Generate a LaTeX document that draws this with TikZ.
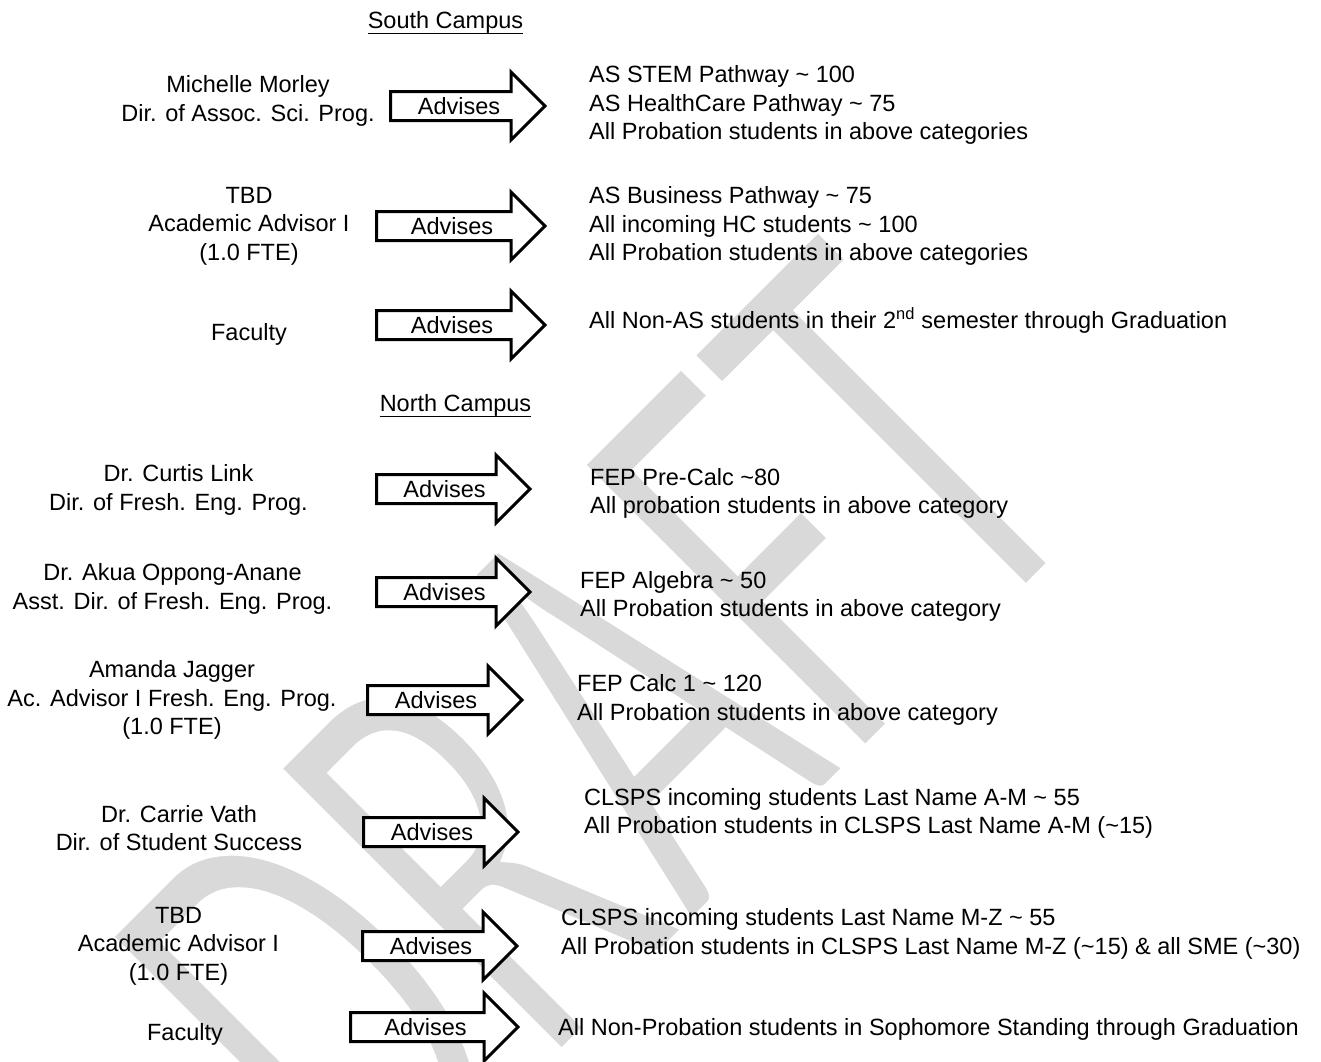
\documentclass[tikz,border=0pt]{standalone}
\usepackage{graphicx}
\usepackage{fontspec}
\setmainfont{Liberation Sans}
\newfontfamily\wmfont{Carlito}
\newcommand\tildech{\textasciitilde}
% thin the watermark glyphs: fill grey, then stroke them in white
\newcommand\wmthin{\special{pdf:literal direct 2 Tr 1 1 1 RG 10 w}}
\newcommand\wmplain{\special{pdf:literal direct 0 Tr}}
\definecolor{wmgrey}{RGB}{217,217,217}
\tikzstyle{who}=[align=center, inner sep=0pt]
\tikzstyle{what}=[align=left, anchor=west, inner sep=0pt]
\tikzstyle{campus}=[anchor=base, inner sep=0pt]
\tikzstyle{advbox}=[draw, line width=3pt, fill=white, miter limit=10]

\begin{document}
\begin{tikzpicture}[x=1pt, y=-1pt, font=\fontsize{23.5}{28.5}\selectfont]
    \useasboundingbox[fill=white] (0,0) rectangle (1321,1061);
    % watermark
    \node[text=wmgrey, rotate=45, anchor=base, inner sep=0pt] (wm) at (741,875)
        {\scalebox{0.61}[1]{\wmfont\fontsize{630}{630}\selectfont\wmthin DRAFT\wmplain}};

    \node[campus] (south) at (445.5,28.5) {South Campus};
    \draw[line width=1.5pt] ([yshift=-5pt]south.base west) -- ([yshift=-5pt]south.base east);
    \node[campus] (north) at (455.5,411.5) {North Campus};
    \draw[line width=1.5pt] ([yshift=-5pt]north.base west) -- ([yshift=-5pt]north.base east);

    % advisors
    \node[who] (l1) at (248,101) {Michelle Morley\\Dir. of Assoc. Sci. Prog.};
    \node[who] (l2) at (249,226) {TBD\\Academic Advisor I\\(1.0 FTE)};
    \node[who] (l3) at (249,334) {Faculty};
    \node[who] (l4) at (178.5,490) {Dr. Curtis Link\\Dir. of Fresh. Eng. Prog.};
    \node[who] (l5) at (172.5,589) {Dr. Akua Oppong-Anane\\Asst. Dir. of Fresh. Eng. Prog.};
    \node[who] (l6) at (172,700) {Amanda Jagger\\Ac. Advisor I Fresh. Eng. Prog.\\(1.0 FTE)};
    \node[who] (l7) at (179,828) {Dr. Carrie Vath\\Dir. of Student Success};
    \node[who] (l8) at (178.5,946) {TBD\\Academic Advisor I\\(1.0 FTE)};
    \node[who] (l9) at (185,1034) {Faculty};

    % students
    \node[what] (r1) at (589,105) {AS STEM Pathway \tildech{} 100\\AS HealthCare Pathway \tildech{} 75\\All Probation students in above categories};
    \node[what] (r2) at (589,226) {AS Business Pathway \tildech{} 75\\All incoming HC students \tildech{} 100\\All Probation students in above categories};
    \node[what] (r3) at (589,320) {All Non-AS students in their 2\textsuperscript{nd} semester through Graduation};
    \node[what] (r4) at (590,493.5) {FEP Pre-Calc \tildech80\\All probation students in above category};
    \node[what] (r5) at (580,596.5) {FEP Algebra \tildech{} 50\\All Probation students in above category};
    \node[what] (r6) at (577,700) {FEP Calc 1 \tildech{} 120\\All Probation students in above category};
    \node[what] (r7) at (584,813.5) {CLSPS incoming students Last Name A-M \tildech{} 55\\All Probation students in CLSPS Last Name A-M (\tildech15)};
    \node[what] (r8) at (561,934) {CLSPS incoming students Last Name M-Z \tildech{} 55\\All Probation students in CLSPS Last Name M-Z (\tildech15) \& all SME (\tildech30)};
    \node[what] (r9) at (558,1029) {All Non-Probation students in Sophomore Standing through Graduation};

    % block arrows
    \foreach \i/\xl/\xt/\yc in {1/389/547/106, 2/375/547/226, 3/375/547/325,
        4/375/532/489, 5/375/532/592, 6/366/524/700, 7/362/520/832,
        8/361/519/946, 9/349/520/1027} {
        \draw[advbox] (\xl+1.5,\yc-14.5) -- (\xt-36,\yc-14.5) -- (\xt-36,\yc-34)
            -- (\xt-2,\yc) -- (\xt-36,\yc+34) -- (\xt-36,\yc+14.5)
            -- (\xl+1.5,\yc+14.5) -- cycle;
        \node (adv\i) at ({(\xl+\xt)/2-9},\yc) {Advises};
    }
\end{tikzpicture}
\end{document}
